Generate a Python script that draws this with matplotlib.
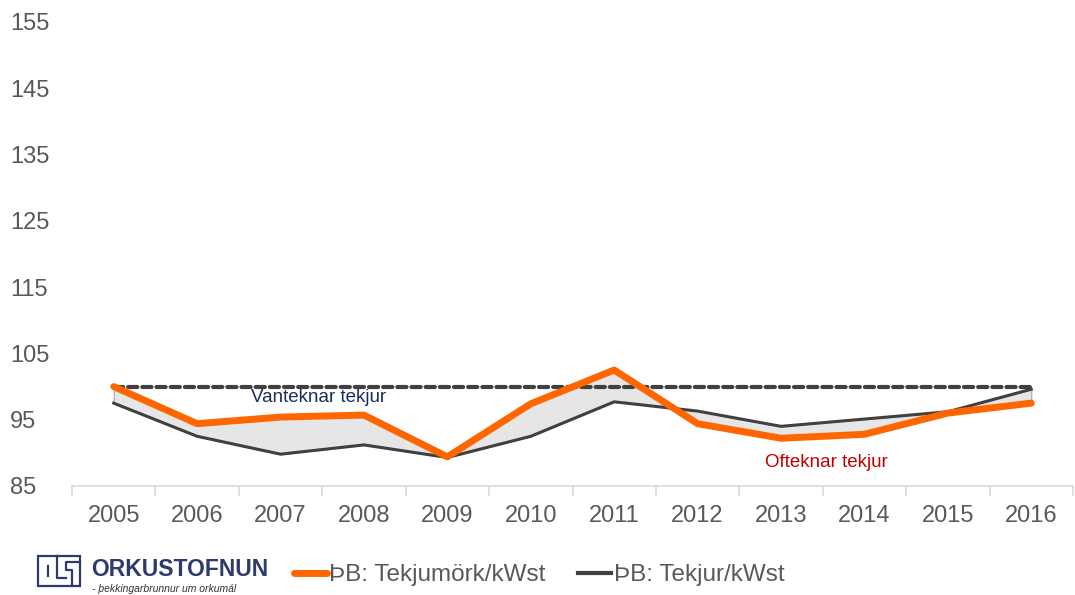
import matplotlib.pyplot as plt
from matplotlib.lines import Line2D
from matplotlib.patches import Rectangle
import numpy as np

plt.rcParams['font.family'] = ['Liberation Sans', 'DejaVu Sans']

# Gögn lesin af myndinni
years = ['2005', '2006', '2007', '2008', '2009', '2010',
         '2011', '2012', '2013', '2014', '2015', '2016']
tekjumork = [100.0, 94.4, 95.4, 95.7, 89.4, 97.4, 102.5, 94.4, 92.2, 92.8, 96.0, 97.5]
tekjur = [97.5, 92.5, 89.8, 91.2, 89.3, 92.5, 97.7, 96.3, 94.0, 95.1, 96.2, 99.6]
vidmid = [100] * 12
yticks = [85, 95, 105, 115, 125, 135, 145, 155]

ORANGE = '#ff6600'
DARK = '#404040'
TICK = '#595959'
NAVY = '#2e3a6e'

fig = plt.figure(figsize=(10.75, 5.95), dpi=100)
ax = fig.add_axes([72 / 1075, 1 - 486 / 595, 1001 / 1075, 464 / 595])

x = np.arange(len(years))

# skyggt svæði milli tekjumarka og tekna
ax.fill_between(x, tekjumork, tekjur, facecolor='#e6e6e6', edgecolor='#a6a6a6',
                linewidth=0.8, zorder=1)
ax.plot(x, vidmid, color=DARK, linewidth=3, linestyle=(0, (2.2, 1.2)),
        dash_capstyle='round', zorder=2)
ax.plot(x, tekjur, color=DARK, linewidth=2.2, zorder=3)
ax.plot(x, tekjumork, color=ORANGE, linewidth=5, zorder=4, solid_capstyle='round')

ax.text(2.45, 98.4, 'Vanteknar tekjur', color='#1f2a5c', fontsize=13.5,
        ha='center', va='center')
ax.text(8.54, 88.6, 'Ofteknar tekjur', color='#c00000', fontsize=13.5,
        ha='center', va='center')

ax.set_xlim(-0.5, len(years) - 0.5)
ax.set_ylim(85, 155)
ax.set_yticks(yticks)
ax.set_xticks(x)
ax.set_xticklabels(years)
ax.set_xticks(np.arange(-0.5, len(years)), minor=True)

for side in ['top', 'right', 'left']:
    ax.spines[side].set_visible(False)
ax.spines['bottom'].set_color('#d9d9d9')
ax.spines['bottom'].set_linewidth(1.2)

ax.tick_params(axis='x', which='major', length=0, pad=14, labelsize=17, labelcolor=TICK)
ax.tick_params(axis='x', which='minor', length=7, color='#d9d9d9', width=1.2)
ax.tick_params(axis='y', length=0, pad=44.6, labelsize=17, labelcolor=TICK)
for lab in ax.get_yticklabels():
    lab.set_horizontalalignment('left')

# skýringar
handles = [Line2D([], [], color=ORANGE, linewidth=5, solid_capstyle='round'),
           Line2D([], [], color=DARK, linewidth=3)]
fig.legend(handles, ['ÞB: Tekjumörk/kWst', 'ÞB: Tekjur/kWst'],
           loc='center left', bbox_to_anchor=(272 / 1075, 1 - 575 / 595),
           ncol=2, frameon=False, fontsize=17.5, labelcolor=TICK,
           handlelength=1.35, handletextpad=0.1, columnspacing=1.35)

# merki Orkustofnunar
fig.patches.append(Rectangle((38 / 1075, 1 - 586 / 595), 42 / 1075, 30 / 595,
                             transform=fig.transFigure, fill=False,
                             edgecolor=NAVY, linewidth=1.6))
fig.add_artist(Line2D([48 / 1075, 48 / 1075], [1 - 566 / 595, 1 - 576 / 595],
                      transform=fig.transFigure, color=NAVY, linewidth=1.6))
fig.add_artist(Line2D([57 / 1075, 57 / 1075, 66 / 1075],
                      [1 - 556 / 595, 1 - 578 / 595, 1 - 578 / 595],
                      transform=fig.transFigure, color=NAVY, linewidth=1.6))
fig.add_artist(Line2D([80 / 1075, 66 / 1075, 66 / 1075, 72 / 1075, 72 / 1075],
                      [1 - 562 / 595, 1 - 562 / 595, 1 - 570 / 595, 1 - 570 / 595, 1 - 586 / 595],
                      transform=fig.transFigure, color=NAVY, linewidth=1.6))
fig.text(91 / 1075, 1 - 570 / 595, 'ORKUSTOFNUN', color=NAVY, fontsize=16.5,
         fontweight='bold', va='center', ha='left')
fig.text(92 / 1075, 1 - 589 / 595, '- þekkingarbrunnur um orkumál', color='#333333',
         fontsize=7.5, style='italic', va='center', ha='left')

fig.savefig('out.png', dpi=100)
